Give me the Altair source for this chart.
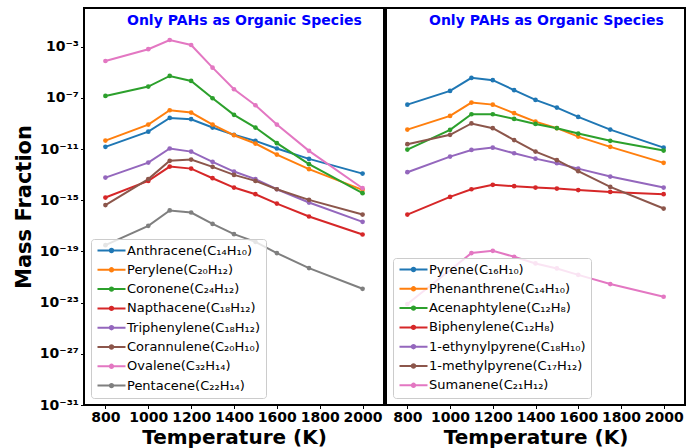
import altair as alt
import pandas as pd

# Temperatures (K) at which the equilibrium composition was computed
temps = [800, 1000, 1100, 1200, 1300, 1400, 1500, 1600, 1750, 2000]

# log10 of the mass fraction of each species, one value per temperature
anthracene = [-10.83, -9.64, -8.57, -8.67, -9.32, -9.89, -10.36, -10.96, -11.77, -12.92]
perylene = [-10.34, -9.09, -7.97, -8.15, -9.09, -9.92, -10.57, -11.43, -12.57, -14.19]
coronene = [-6.85, -6.12, -5.29, -5.68, -7.03, -8.33, -9.32, -10.54, -12.18, -14.45]
napthacene = [-14.79, -13.49, -12.37, -12.53, -13.28, -14.01, -14.53, -15.26, -16.27, -17.68]
triphenylene = [-13.23, -12.06, -10.96, -11.20, -12.00, -12.76, -13.35, -14.14, -15.18, -16.69]
corannulene = [-15.38, -13.35, -11.92, -11.82, -12.39, -13.02, -13.49, -14.14, -14.97, -16.12]
ovalene = [-4.12, -3.20, -2.48, -2.87, -4.64, -6.33, -7.58, -9.09, -11.14, -14.06]
pentacene = [-18.51, -17.00, -15.80, -15.96, -16.85, -17.65, -18.25, -19.13, -20.30, -21.92]

pyrene = [-7.53, -6.46, -5.44, -5.62, -6.40, -7.16, -7.76, -8.49, -9.48, -10.89]
phenanthrene = [-9.48, -8.41, -7.37, -7.53, -8.20, -8.86, -9.37, -10.03, -10.83, -12.08]
acenaphtylene = [-11.04, -9.50, -8.28, -8.28, -8.65, -9.04, -9.37, -9.79, -10.36, -11.12]
biphenylene = [-16.12, -14.74, -14.14, -13.80, -13.90, -14.01, -14.09, -14.21, -14.35, -14.53]
ethynylpyrene = [-12.81, -11.59, -11.07, -10.89, -11.33, -11.75, -12.11, -12.53, -13.15, -14.01]
methylpyrene = [-10.62, -9.89, -9.00, -9.37, -10.30, -11.20, -11.87, -12.73, -13.96, -15.65]
sumanene = [-23.11, None, -19.13, -18.95, -19.42, -19.94, -20.33, -20.83, -21.55, -22.54]

left_names = [
    "Anthracene(C₁₄H₁₀)", "Perylene(C₂₀H₁₂)", "Coronene(C₂₄H₁₂)",
    "Napthacene(C₁₈H₁₂)", "Triphenylene(C₁₈H₁₂)", "Corannulene(C₂₀H₁₀)",
    "Ovalene(C₃₂H₁₄)", "Pentacene(C₂₂H₁₄)",
]
left_series = [anthracene, perylene, coronene, napthacene,
               triphenylene, corannulene, ovalene, pentacene]

right_names = [
    "Pyrene(C₁₆H₁₀)", "Phenanthrene(C₁₄H₁₀)", "Acenaphtylene(C₁₂H₈)",
    "Biphenylene(C₁₂H₈)", "1-ethynylpyrene(C₁₈H₁₀)", "1-methylpyrene(C₁₇H₁₂)",
    "Sumanene(C₂₁H₁₂)",
]
right_series = [pyrene, phenanthrene, acenaphtylene, biphenylene,
                ethynylpyrene, methylpyrene, sumanene]

panel_title = "Only PAHs as Organic Species"
x_ticks = [800, 1000, 1200, 1400, 1600, 1800, 2000]
y_exponents = [-31, -27, -23, -19, -15, -11, -7, -3]

palette = ["#1f77b4", "#ff7f0e", "#2ca02c", "#d62728",
           "#9467bd", "#8c564b", "#e377c2", "#7f7f7f"]

SUP = str.maketrans("-0123456789", "⁻⁰¹²³⁴⁵⁶⁷⁸⁹")


def long_table(names, series):
    rows = []
    for order, (name, vals) in enumerate(zip(names, series)):
        for t, v in zip(temps, vals):
            if v is not None:
                rows.append({"species": name, "T": t, "frac": 10.0 ** v, "k": order})
    return pd.DataFrame(rows)


# power-of-ten tick labels, e.g. 10⁻¹⁵
label_expr = "".join(
    f"round(log(datum.value)/LN10) == {e} ? '10{str(e).translate(SUP)}' : "
    for e in y_exponents
) + "''"

x_enc = alt.X(
    "T:Q",
    scale=alt.Scale(domain=[700, 2100], nice=False, zero=False),
    axis=alt.Axis(values=x_ticks, title="Temperature (K)", format="d"),
)


def panel(names, series, show_y, width):
    df = long_table(names, series)
    y_axis = (
        alt.Axis(values=[10.0 ** e for e in y_exponents], labelExpr=label_expr,
                 title="Mass Fraction", minExtent=48, maxExtent=48, titlePadding=2)
        if show_y else None
    )
    y_enc = alt.Y("frac:Q",
                  scale=alt.Scale(type="log", domain=[1e-31, 10 ** 0.02], nice=False),
                  axis=y_axis)
    color = alt.Color(
        "species:N",
        scale=alt.Scale(domain=names, range=palette[:len(names)]),
        legend=alt.Legend(title=None, orient="bottom-left", offset=7),
    )
    lines = alt.Chart(df).mark_line(
        strokeWidth=2, point=alt.OverlayMarkDef(size=22, filled=True, opacity=1)
    ).encode(x=x_enc, y=y_enc, color=color, order="k:Q")
    title = alt.Chart(pd.DataFrame({"t": [panel_title]})).mark_text(
        align="left", baseline="alphabetic", fontSize=14, fontWeight="bold",
        color="#0000ff", font="DejaVu Sans",
    ).encode(x=alt.value(43), y=alt.value(16.5), text="t:N")
    return alt.layer(lines, title).properties(width=width, height=397)


left = panel(left_names, left_series, True, 300)
right = panel(right_names, right_series, False, 299)

chart = (
    alt.hconcat(left, right, spacing=0)
    .resolve_scale(color="independent")
    .resolve_legend(color="independent")
    .properties(padding={"left": 12, "top": 7, "right": 5, "bottom": 2})
    .configure(font="DejaVu Sans")
    .configure_view(stroke="black", strokeWidth=2)
    .configure_axis(
        domain=False, grid=False, tickColor="black", tickSize=3.5, tickWidth=1,
        labelFont="DejaVu Sans", labelFontSize=14, labelFontWeight="bold",
        labelColor="black", labelPadding=2,
        titleFont="DejaVu Sans", titleFontSize=20, titleFontWeight="bold",
        titleColor="black",
    )
    .configure_axisY(titleFontSize=21)
    .configure_axisX(titlePadding=3, labelFlush=False, labelOverlap=False)
    .configure_legend(
        labelFont="DejaVu Sans", labelFontSize=13, labelColor="black", labelLimit=300,
        padding=5, rowPadding=5.3, fillColor="rgba(255,255,255,0.8)",
        strokeColor="#cccccc", cornerRadius=3,
        symbolType="M-2.8,0H2.8M-0.34,0a0.34,0.34 0 1,0 0.68,0a0.34,0.34 0 1,0 -0.68,0Z",
        symbolSize=100, symbolStrokeWidth=2, symbolOffset=9, labelOffset=9,
    )
)

chart.save("out.html", embed_options={"renderer": "svg", "actions": False})
